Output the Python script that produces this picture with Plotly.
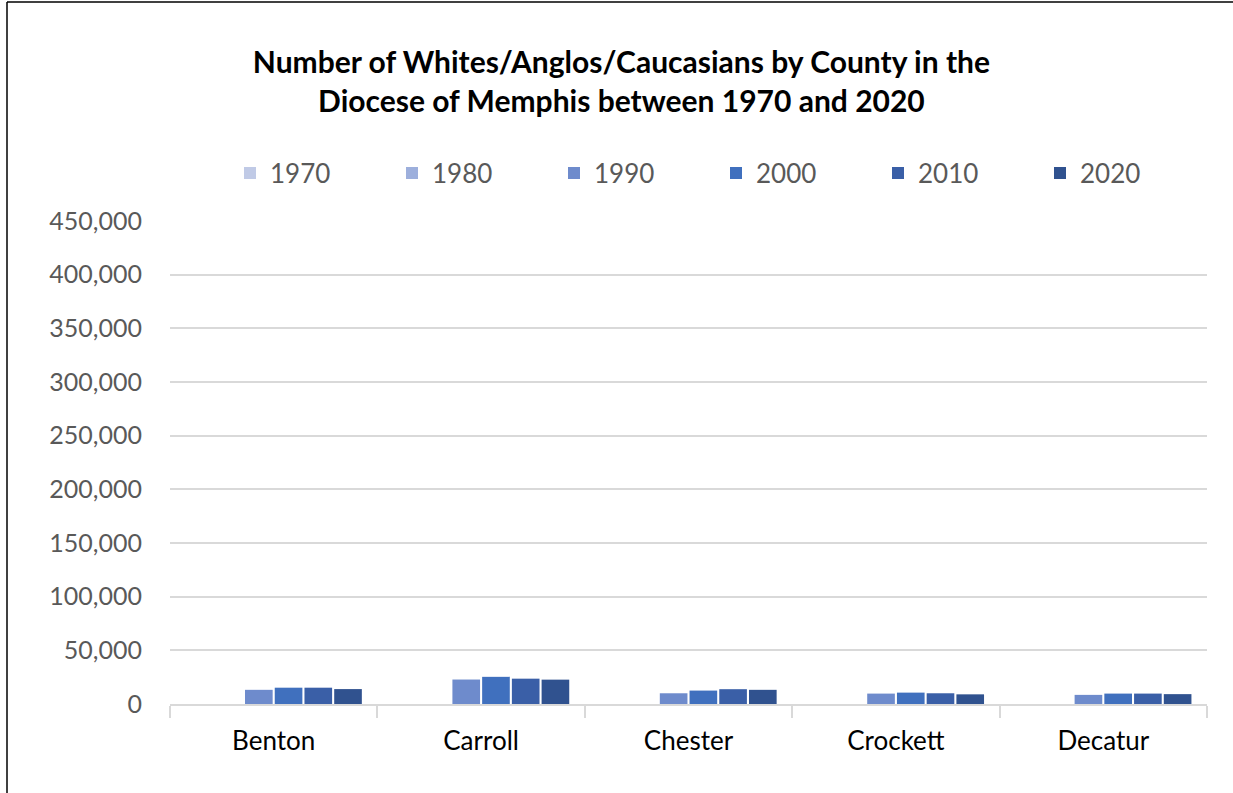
import plotly.graph_objects as go

counties = ["Benton", "Carroll", "Chester", "Crockett", "Decatur"]
years = ["1970", "1980", "1990", "2000", "2010", "2020"]
values = {
    "1970": [0, 0, 0, 0, 0],
    "1980": [0, 0, 0, 0, 0],
    "1990": [13200, 22800, 10000, 9700, 8500],
    "2000": [15200, 25300, 12500, 10600, 9700],
    "2010": [15200, 23600, 13800, 10000, 9700],
    "2020": [13900, 22700, 13200, 9000, 9200],
}
colors = ["#c0cae6", "#9dafdc", "#6e8bcc", "#4070be", "#3a5fa7", "#30528f"]

fig = go.Figure()
for y, c in zip(years, colors):
    fig.add_trace(go.Bar(name=y, x=counties, y=values[y], marker_color=c,
                         marker_line_width=0))

FONT = "Lato"
L, R, T, B = 170, 26, 221, 89
W, H = 1233, 793
pw, ph = W - L - R, H - T - B

fig.update_layout(
    width=W, height=H,
    margin=dict(l=L, r=R, t=T, b=B),
    paper_bgcolor="white", plot_bgcolor="white",
    barmode="group", bargap=0.14, bargroupgap=0.07,
    font=dict(family=FONT, color="#595959"),
    title=dict(
        text="Number of Whites/Anglos/Caucasians by County in the<br>Diocese of Memphis between 1970 and 2020",
        x=0.504, xanchor="center", y=1 - 73 / H, yanchor="middle",
        font=dict(family=FONT, size=30, color="#000000", weight="bold"),
    ),
    legend=dict(
        orientation="h", x=(230 - L) / pw, xanchor="left", y=(704 - 173) / ph, yanchor="middle",
        font=dict(size=26, color="#595959"), entrywidth=117, traceorder="normal",
    ),
    xaxis=dict(
        showline=True, linecolor="#d9d9d9", linewidth=1.5,
        ticks="outside", tickson="boundaries", ticklen=12, tickcolor="#d9d9d9", tickwidth=1.5,
        tickfont=dict(size=26, color="#000000"), ticklabelstandoff=13,
    ),
    yaxis=dict(
        range=[0, 450000], dtick=50000, tickformat=",",
        showgrid=True, gridcolor="#d9d9d9", gridwidth=1.5,
        zeroline=False, showline=False,
        tickfont=dict(size=25, color="#595959"), ticklabelstandoff=27,
    ),
    shapes=[
        dict(type="line", xref="paper", yref="paper",
             x0=(7 - L) / pw, x1=(7 - L) / pw, y0=(704 - 2) / ph, y1=(704 - 800) / ph,
             line=dict(color="#000000", width=1.5)),
        dict(type="line", xref="paper", yref="paper",
             x0=(7 - L) / pw, x1=(1240 - L) / pw, y0=(704 - 2) / ph, y1=(704 - 2) / ph,
             line=dict(color="#000000", width=1.5)),
    ],
)

fig.write_html("out.html", post_script="document.body.style.margin='0';",
               config={"displayModeBar": False})
